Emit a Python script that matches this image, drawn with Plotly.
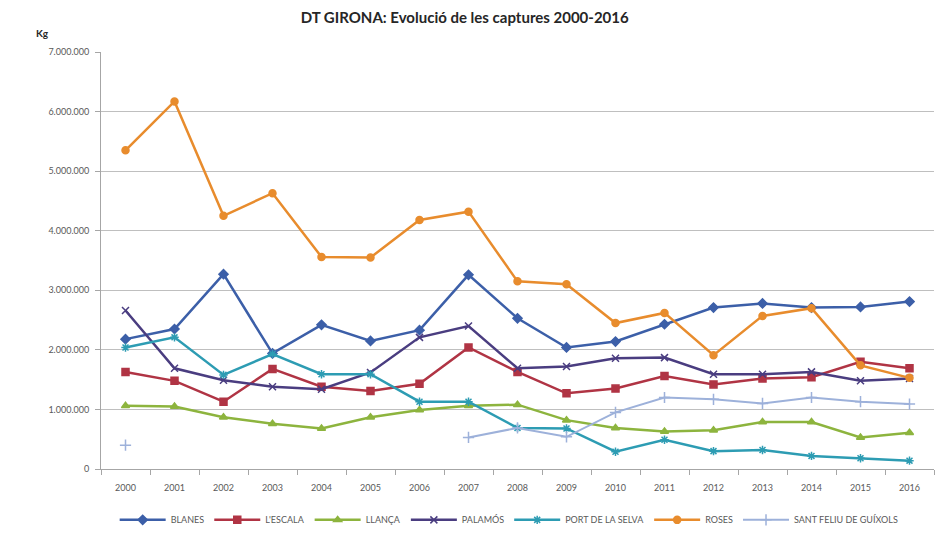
import plotly.graph_objects as go

# Annual catches (kg) per port, DT Girona
years = list(range(2000, 2017))

blanes = [2180000, 2350000, 3270000, 1940000, 2420000, 2150000, 2330000, 3260000, 2530000,
          2040000, 2140000, 2430000, 2710000, 2780000, 2710000, 2720000, 2810000]
escala = [1630000, 1480000, 1130000, 1680000, 1380000, 1310000, 1430000, 2040000, 1630000,
          1270000, 1350000, 1560000, 1420000, 1520000, 1540000, 1800000, 1690000]
llanca = [1060000, 1050000, 870000, 760000, 680000, 870000, 990000, 1060000, 1080000,
          820000, 690000, 630000, 650000, 790000, 790000, 530000, 610000]
palamos = [2660000, 1690000, 1490000, 1380000, 1340000, 1620000, 2210000, 2400000, 1690000,
           1720000, 1860000, 1870000, 1590000, 1590000, 1630000, 1480000, 1520000]
port_selva = [2040000, 2210000, 1580000, 1930000, 1590000, 1590000, 1130000, 1130000, 690000,
              680000, 290000, 490000, 300000, 320000, 220000, 180000, 140000]
roses = [5350000, 6170000, 4250000, 4630000, 3560000, 3550000, 4180000, 4320000, 3150000,
         3100000, 2450000, 2620000, 1910000, 2570000, 2700000, 1740000, 1530000]
sant_feliu = [400000, None, None, None, None, None, None, 530000, 690000,
              540000, 950000, 1200000, 1170000, 1100000, 1200000, 1130000, 1090000]

series = [
    ("BLANES", blanes, "#3C5FA8", "diamond", 7, 2.5),
    ("L'ESCALA", escala, "#B03444", "square", 7, 2.5),
    ("LLANÇA", llanca, "#8DB43E", "triangle-up", 7, 2.5),
    ("PALAMÓS", palamos, "#4A3D80", "x-thin-open", 7, 2.5),
    ("PORT DE LA SELVA", port_selva, "#2D9CB3", "asterisk-open", 7, 2.5),
    ("ROSES", roses, "#E88C2D", "circle", 7, 2.5),
    ("SANT FELIU DE GUÍXOLS", sant_feliu, "#9DB1DA", "cross-thin-open", 8, 2),
]

fig = go.Figure()
for name, vals, color, symbol, msize, lw in series:
    fig.add_trace(go.Scatter(
        x=years, y=vals, name=name, mode="lines+markers",
        line=dict(color=color, width=lw),
        marker=dict(symbol=symbol, size=msize, color=color,
                    line=dict(color=color, width=1.5)),
        connectgaps=False,
    ))

font_family = "Lato, 'Open Sans', sans-serif"

fig.update_layout(
    width=935, height=560,
    margin=dict(l=101, r=1, t=52, b=91, autoexpand=False),
    paper_bgcolor="white", plot_bgcolor="white",
    separators=",.",
    font=dict(family=font_family, color="#595959", size=10),
    title=dict(text="<b>DT GIRONA: Evolució de les captures 2000-2016</b>",
               x=0.497, xanchor="center", y=0.968, yanchor="middle",
               font=dict(size=15, color="#262626", family=font_family)),
    showlegend=True,
    legend=dict(orientation="h", x=0.49, xanchor="center", y=-0.122, yanchor="middle",
                font=dict(size=9, color="#595959"), itemwidth=46,
                tracegroupgap=0),
    xaxis=dict(
        range=[1999.5, 2016.5], tickmode="array", tickvals=years,
        ticktext=[str(y) for y in years], ticks="", showgrid=False,
        showline=True, linecolor="#A6A6A6", linewidth=1, zeroline=False,
        ticklabelstandoff=10, tickfont=dict(size=9),
        minor=dict(ticks="outside", tick0=1999.5, dtick=1, ticklen=5,
                   tickcolor="#A6A6A6", showgrid=False),
    ),
    yaxis=dict(
        range=[0, 7000000], dtick=1000000, tickformat=",d",
        showgrid=True, gridcolor="#BFBFBF", gridwidth=1,
        showline=True, linecolor="#A6A6A6", linewidth=1, zeroline=False,
        ticks="outside", ticklen=5, tickcolor="#A6A6A6",
        ticklabelstandoff=4, tickfont=dict(size=9),
    ),
    annotations=[dict(text="<b>Kg</b>", xref="paper", yref="paper",
                      x=-0.07, y=1.045, xanchor="center", yanchor="middle",
                      showarrow=False, font=dict(size=10, color="#262626"))],
)

fig.write_html("out.html")
